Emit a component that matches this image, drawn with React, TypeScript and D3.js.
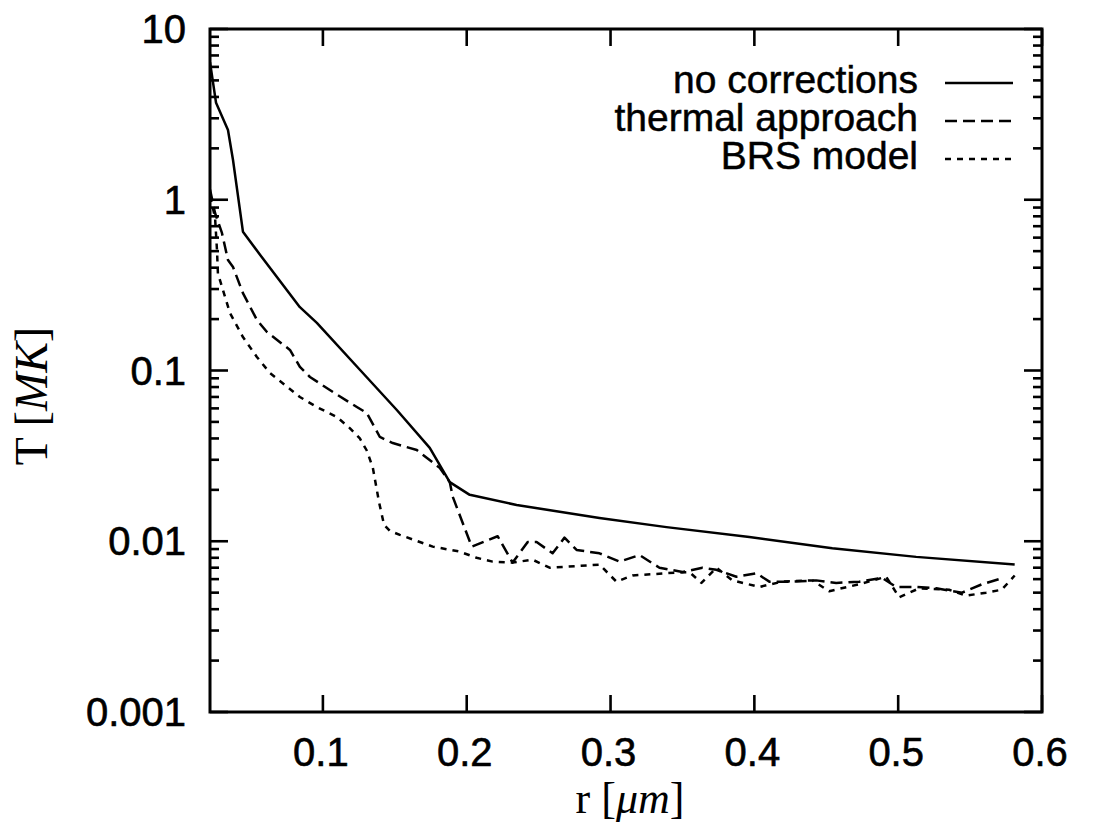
import React from "react";
import * as d3 from "d3";

// ---- data ----
const rNoCorr = [0.0215, 0.0257, 0.034, 0.0375, 0.0444, 0.0576, 0.084, 0.0958, 0.1257, 0.1514, 0.1743, 0.1882, 0.2021, 0.2347, 0.2923, 0.3389, 0.3965, 0.4542, 0.5125, 0.581];
const tNoCorr = [6.4, 3.7, 2.56, 1.71, 0.65, 0.46, 0.235, 0.19, 0.101, 0.0587, 0.0352, 0.0222, 0.0187, 0.0163, 0.0137, 0.0121, 0.0106, 0.0091, 0.0081, 0.0073];

const rThermal = [0.0215, 0.025, 0.0298, 0.034, 0.0375, 0.0444, 0.0541, 0.0611, 0.0771, 0.084, 0.091, 0.107, 0.1236, 0.1305, 0.1396, 0.1486, 0.1653, 0.1812, 0.1882, 0.1903, 0.2035, 0.2215, 0.2319, 0.2424, 0.2486, 0.2597, 0.268, 0.2764, 0.2923, 0.3062, 0.3201, 0.334, 0.35, 0.3639, 0.3736, 0.3875, 0.4014, 0.4104, 0.4264, 0.443, 0.4569, 0.4729, 0.4889, 0.4986, 0.5125, 0.5264, 0.5444, 0.5583, 0.5701];
const tThermal = [1.15, 0.836, 0.639, 0.444, 0.404, 0.284, 0.198, 0.168, 0.132, 0.105, 0.0916, 0.0748, 0.0611, 0.0564, 0.0408, 0.0376, 0.0342, 0.0269, 0.0222, 0.0182, 0.0093, 0.0107, 0.0075, 0.0099, 0.0099, 0.0085, 0.0105, 0.0089, 0.0085, 0.0076, 0.0083, 0.007, 0.0066, 0.007, 0.0068, 0.0062, 0.0065, 0.0058, 0.0058, 0.0059, 0.0057, 0.0058, 0.0061, 0.0054, 0.0054, 0.0053, 0.005, 0.0056, 0.006];

const rBRS = [0.0215, 0.025, 0.0264, 0.027, 0.032, 0.0354, 0.0444, 0.0541, 0.0632, 0.084, 0.0958, 0.1097, 0.1187, 0.1257, 0.1305, 0.1347, 0.139, 0.1425, 0.1465, 0.1535, 0.1764, 0.195, 0.2069, 0.218, 0.2319, 0.2458, 0.2576, 0.2694, 0.2923, 0.3041, 0.3153, 0.3389, 0.3548, 0.3632, 0.3736, 0.3847, 0.4035, 0.4194, 0.4403, 0.452, 0.473, 0.4916, 0.5007, 0.5146, 0.5354, 0.5472, 0.5611, 0.572, 0.581];
const tBRS = [1.05, 0.79, 0.5, 0.37, 0.269, 0.217, 0.157, 0.12, 0.0967, 0.07, 0.0611, 0.0534, 0.046, 0.04, 0.034, 0.027, 0.017, 0.0125, 0.0115, 0.0109, 0.0093, 0.0087, 0.008, 0.0076, 0.0075, 0.0078, 0.007, 0.0071, 0.0073, 0.0058, 0.0063, 0.0065, 0.0066, 0.0057, 0.007, 0.0059, 0.0054, 0.0058, 0.0059, 0.0051, 0.0056, 0.0062, 0.0047, 0.0053, 0.0052, 0.0048, 0.005, 0.0052, 0.0063];

const xTicks = [0.1, 0.2, 0.3, 0.4, 0.5, 0.6];
const xTickLabels = ["0.1", "0.2", "0.3", "0.4", "0.5", "0.6"];
const yTicks = [10, 1, 0.1, 0.01, 0.001];
const yTickLabels = ["10", "1", "0.1", "0.01", "0.001"];
const legendLabels = ["no corrections", "thermal approach", "BRS model"];

const W = 1093, H = 829;
const L = 210, R = 1042, T = 29, B = 712;
const SANS = "'Liberation Sans', Arial, Helvetica, sans-serif";
const SERIF = "'Liberation Serif', 'Times New Roman', serif";

export default function App() {
  const x = d3.scaleLinear().domain([0.0215, 0.6]).range([L, R]);
  const y = d3.scaleLog().domain([0.001, 10]).range([B, T]);
  const line = d3.line<[number, number]>().x((d) => x(d[0])).y((d) => y(d[1]));
  const zip = (a: number[], b: number[]) => a.map((v, i) => [v, b[i]] as [number, number]);

  const minor: number[] = [];
  for (let e = -3; e < 1; e++) for (let m = 2; m <= 9; m++) minor.push(m * Math.pow(10, e));

  const series = [
    { d: zip(rNoCorr, tNoCorr), dash: undefined as string | undefined },
    { d: zip(rThermal, tThermal), dash: "12,6" },
    { d: zip(rBRS, tBRS), dash: "6,6" },
  ];

  return (
    <svg width={W} height={H} style={{ position: "absolute", left: 0, top: 0, background: "#fff" }}>
      <rect x={0} y={0} width={W} height={H} fill="#fff" />
      <defs>
        <clipPath id="clip">
          <rect x={L} y={T} width={R - L} height={B - T} />
        </clipPath>
      </defs>
      {/* curves */}
      <g clipPath="url(#clip)">
        {series.map((s, i) => (
          <path key={i} d={line(s.d) || ""} fill="none" stroke="#000" strokeWidth={2.5} strokeDasharray={s.dash} strokeLinejoin="round" />
        ))}
      </g>
      {/* ticks */}
      <g stroke="#000" strokeWidth={2.6}>
        {xTicks.map((t, i) => (
          <g key={"xt" + i}>
            <line x1={x(t)} x2={x(t)} y1={B} y2={B - 17} />
            <line x1={x(t)} x2={x(t)} y1={T} y2={T + 17} />
          </g>
        ))}
        {yTicks.map((t, i) => (
          <g key={"yt" + i}>
            <line x1={L} x2={L + 18} y1={y(t)} y2={y(t)} />
            <line x1={R} x2={R - 18} y1={y(t)} y2={y(t)} />
          </g>
        ))}
        {minor.map((t, i) => (
          <g key={"ym" + i}>
            <line x1={L} x2={L + 9} y1={y(t)} y2={y(t)} />
            <line x1={R} x2={R - 9} y1={y(t)} y2={y(t)} />
          </g>
        ))}
      </g>
      {/* frame */}
      <rect x={L} y={T} width={R - L} height={B - T} fill="none" stroke="#000" strokeWidth={3} />
      {/* tick labels */}
      <g fontFamily={SANS} fontSize={40} fill="#000" stroke="#000" strokeWidth={0.6}>
        {xTicks.map((t, i) => (
          <text key={"xl" + i} x={x(t) - 2} y={766} textAnchor="middle">{xTickLabels[i]}</text>
        ))}
        {yTicks.map((t, i) => (
          <text key={"yl" + i} x={186} y={y(t) + 14} textAnchor="end">{yTickLabels[i]}</text>
        ))}
      </g>
      {/* axis titles */}
      <text x={630} y={813} textAnchor="middle" fontFamily={SERIF} fontSize={44} fill="#000">
        r [<tspan fontStyle="italic">μm</tspan>]
      </text>
      <text transform="translate(47,396) rotate(-90)" textAnchor="middle" fontFamily={SERIF} fontSize={46} fill="#000">
        T [<tspan fontStyle="italic">MK</tspan>]
      </text>
      {/* legend */}
      <g fontFamily={SANS} fontSize={39} fill="#000">
        {legendLabels.map((lab, i) => (
          <g key={"lg" + i}>
            <text x={918} y={93 + i * 38} textAnchor="end" stroke="#000" strokeWidth={0.5}>{lab}</text>
            <line x1={945} x2={1013} y1={93 + i * 38 - 10} y2={93 + i * 38 - 10} stroke="#000" strokeWidth={2.3} strokeDasharray={series[i].dash} />
          </g>
        ))}
      </g>
    </svg>
  );
}
